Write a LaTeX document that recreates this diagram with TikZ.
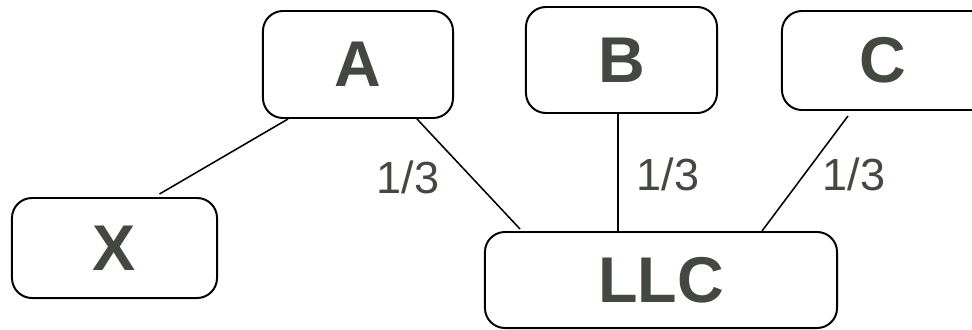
\documentclass[tikz,border=0pt]{standalone}
\usepackage{fontspec}
\setmainfont{Liberation Sans}
\usetikzlibrary{calc}
\definecolor{txtgray}{RGB}{67,72,64}
\begin{document}
\begin{tikzpicture}[x=0.025cm,y=-0.025cm,
    box/.style={draw,line width=1.4pt,rounded corners=0.5cm,text=txtgray,inner sep=0pt,
      font=\fontsize{46}{50}\selectfont\bfseries},
    share/.style={text=txtgray,inner sep=0pt,anchor=base,font=\fontsize{32}{36}\selectfont},
    wire/.style={line width=1.1pt}]
    \useasboundingbox (0,0) rectangle (972,329);
    \clip (0,0) rectangle (972,329);
    \node[box,minimum width=4.75cm,minimum height=2.675cm] (A) at (358,64.5) {A};
    \node[box,minimum width=4.775cm,minimum height=2.65cm] (B) at (621.5,60) {B};
    % C runs past the right edge
    \node[box,minimum width=6cm,minimum height=2.475cm] (C) at (902,60.5) {\hbox{C\kern0.95cm}};
    \node[box,minimum width=5.125cm,minimum height=2.5cm] (X) at (114.5,248) {X};
    \node[box,minimum width=8.8cm,minimum height=2.4cm] (LLC) at (661,280) {LLC};
    \draw[wire] ($(X.north)+(45,-3)$) -- ($(A.south)+(-70,0)$);
    \draw[wire] ($(A.south)+(59,0)$) -- ($(LLC.north)+(-141,-2)$);
    \draw[wire] ($(B.south)+(-3.5,0)$) -- ($(LLC.north)+(-43,0)$);
    \draw[wire] ($(C.south west)+(67,5)$) -- ($(LLC.north)+(101,0)$);
    \node[share] (sa) at (408,193) {1/3};
    \node[share] (sb) at (668,190) {1/3};
    \node[share] (sc) at (854,190) {1/3};
\end{tikzpicture}
\end{document}
